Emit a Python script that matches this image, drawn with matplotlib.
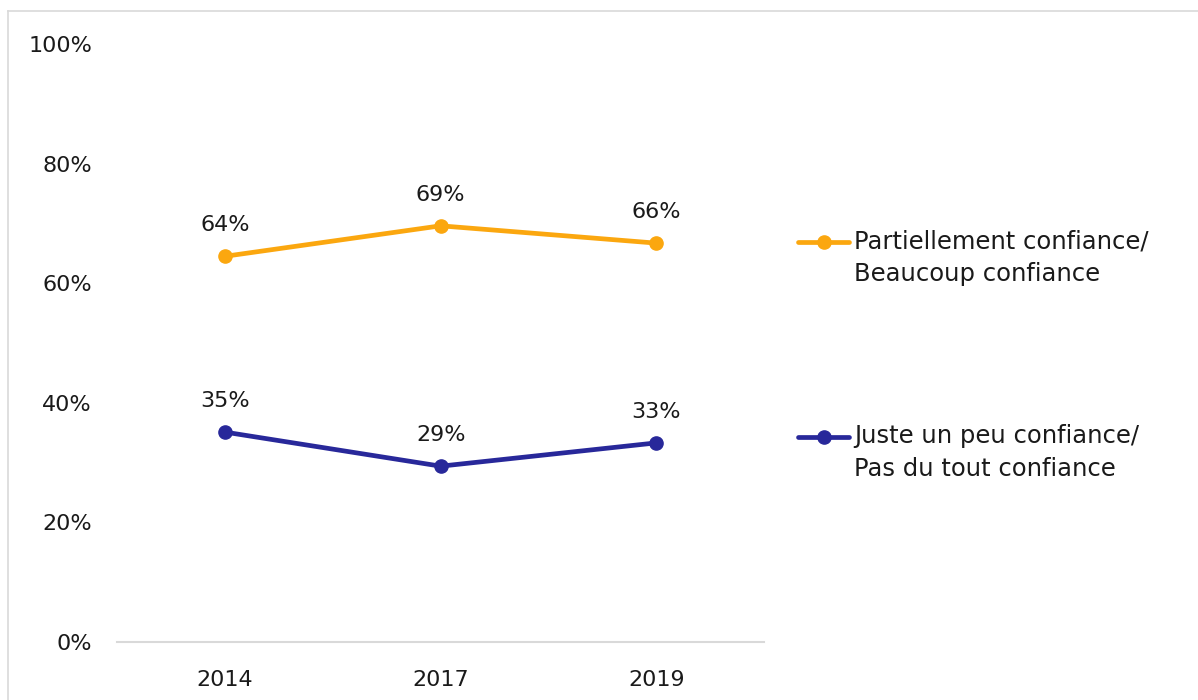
import matplotlib
matplotlib.use("Agg")
import matplotlib.pyplot as plt
from matplotlib.lines import Line2D

years = ["2014", "2017", "2019"]
partiel = [64.5, 69.6, 66.7]
partiel_labels = ["64%", "69%", "66%"]
juste = [35.1, 29.4, 33.3]
juste_labels = ["35%", "29%", "33%"]
names = ["Partiellement confiance/\nBeaucoup confiance",
         "Juste un peu confiance/\nPas du tout confiance"]
y_ticks = [0, 20, 40, 60, 80, 100]

orange = "#FBA70F"
blue = "#28289A"
font = "DejaVu Sans"
plt.rcParams["font.family"] = font

fig = plt.figure(figsize=(11.98, 7), dpi=100)
ax = fig.add_axes([0.0977, 0.0829, 0.5403, 0.8542])

x = range(len(years))
series = [(partiel, partiel_labels, orange), (juste, juste_labels, blue)]
for vals, labs, col in series:
    ax.plot(x, vals, color=col, lw=3.4, marker="o", ms=9.5, solid_capstyle="round")
    for xi, v, lab in zip(x, vals, labs):
        ax.annotate(lab, (xi, v), xytext=(0, 15), textcoords="offset points",
                    ha="center", va="bottom", fontsize=16, color="#1a1a1a")

ax.set_xlim(-0.5, 2.5)
ax.set_ylim(0, 100)
ax.set_xticks(list(x))
ax.set_xticklabels(years)
ax.set_yticks(y_ticks)
ax.set_yticklabels([f"{t}%" for t in y_ticks])
ax.tick_params(length=0, labelsize=16, colors="#1a1a1a")
ax.tick_params(axis="y", pad=18)
ax.tick_params(axis="x", pad=20)
for s in ["top", "right", "left"]:
    ax.spines[s].set_visible(False)
ax.spines["bottom"].set_color("#D9D9D9")
ax.spines["bottom"].set_linewidth(1.5)

# legend drawn by hand so the marker lines up with the first text line
leg_y = [1 - 242 / 700, 1 - 437 / 700]
for (vals, labs, col), name, ly in zip(series, names, leg_y):
    fig.add_artist(Line2D([0.666, 0.709], [ly, ly], transform=fig.transFigure,
                          color=col, lw=3.4, solid_capstyle="round"))
    fig.add_artist(Line2D([0.6875], [ly], transform=fig.transFigure,
                          color=col, marker="o", ms=9.5))
    fig.text(0.713, ly + 0.0185, name, ha="left", va="top", fontsize=17.5,
             color="#1a1a1a", linespacing=1.45)

# outer frame (top and left edges visible)
fig.add_artist(Line2D([0.0067, 1.0], [1 - 11 / 700, 1 - 11 / 700],
                      transform=fig.transFigure, color="#D9D9D9", lw=1.2))
fig.add_artist(Line2D([0.0067, 0.0067], [0, 1 - 11 / 700],
                      transform=fig.transFigure, color="#D9D9D9", lw=1.2))

fig.savefig("out.png", dpi=100)
